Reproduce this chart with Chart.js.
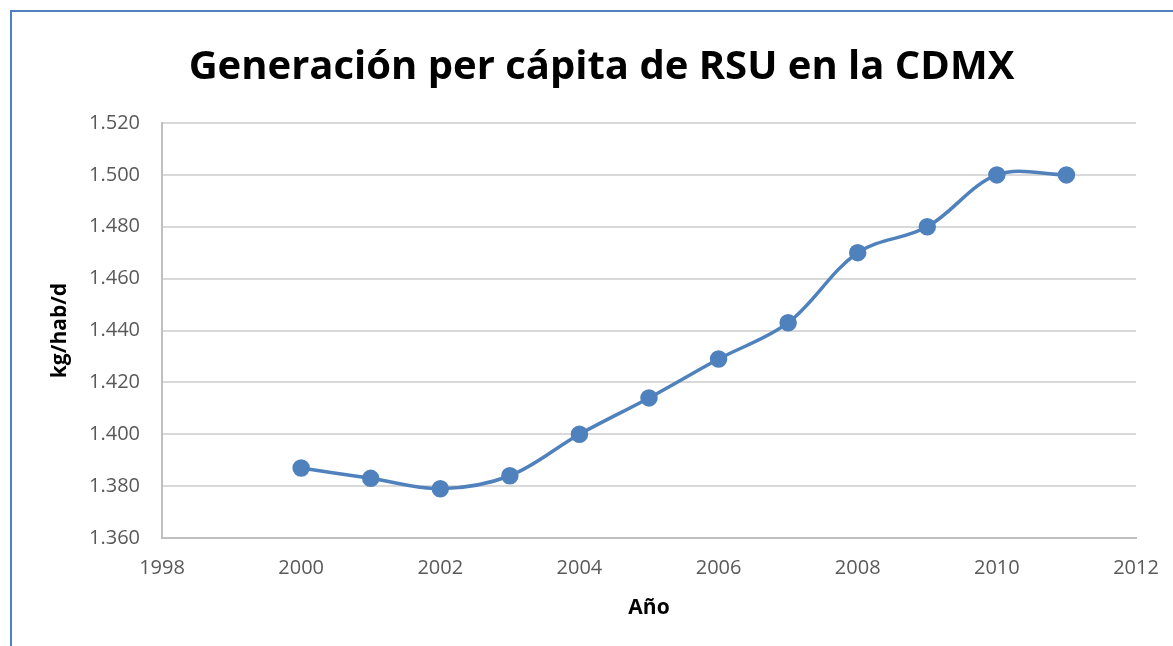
<!DOCTYPE html>
<html>
<head>
<meta charset="utf-8">
<script src="https://cdn.jsdelivr.net/npm/chart.js@4/dist/chart.umd.min.js"></script>
<style>
  html, body { margin: 0; padding: 0; background: #fff; }
  #wrap { position: relative; width: 1173px; height: 646px; overflow: hidden; }
  #frame { position: absolute; left: 10px; top: 10px; width: 1180px; height: 660px; border: 2px solid #4F81BD; box-sizing: border-box; }
  canvas { position: absolute; left: 0; top: 0; }
</style>
</head>
<body>
<div id="wrap">
  <div id="frame"></div>
  <canvas id="myChart" width="1173" height="646"></canvas>
</div>
<script>
const canvas = document.getElementById('myChart');

// años y generación per cápita (kg/hab/d)
const years = [2000, 2001, 2002, 2003, 2004, 2005, 2006, 2007, 2008, 2009, 2010, 2011];
const values = [1.387, 1.383, 1.379, 1.384, 1.400, 1.414, 1.429, 1.443, 1.470, 1.480, 1.500, 1.500];

// ticks de los ejes
const xTicks = [1998, 2000, 2002, 2004, 2006, 2008, 2010, 2012];
const yTicks = [1.36, 1.38, 1.40, 1.42, 1.44, 1.46, 1.48, 1.50, 1.52];

const chartTitle = 'Generación per cápita de RSU en la CDMX';
const xTitle = 'Año';
const yTitle = 'kg/hab/d';

let points = [];
for (let i = 0; i < years.length; i++) {
  points.push({ x: years[i], y: values[i] });
}

const tickColor = '#595959';
const gridColor = '#d9d9d9';
const fontFam = "'Open Sans', sans-serif";

// el título va centrado en el marco, no en el área del gráfico
const shiftTitle = {
  id: 'shiftTitle',
  beforeDraw(chart) {
    if (chart.titleBlock) {
      chart.titleBlock.left += 10;
      chart.titleBlock.right += 10;
    }
  }
};

let myChart = new Chart(canvas, {
  type: 'line',
  data: {
    datasets: [{
      data: points,
      borderColor: '#4F81BD',
      backgroundColor: '#4F81BD',
      borderWidth: 3.5,
      pointRadius: 7,
      pointHoverRadius: 7,
      tension: 0.35,
      fill: false
    }]
  },
  plugins: [shiftTitle],
  options: {
    responsive: false,
    animation: false,
    layout: { padding: { left: 47, right: 37, top: 34, bottom: 27 } },
    plugins: {
      legend: { display: false },
      tooltip: { enabled: false },
      title: {
        display: true,
        text: chartTitle,
        color: '#000',
        font: { family: fontFam, size: 40, weight: 'bold' },
        padding: { top: 10, bottom: 31 }
      }
    },
    scales: {
      x: {
        type: 'linear',
        min: 1998,
        max: 2012,
        afterBuildTicks: (s) => { s.ticks = xTicks.map(v => ({ value: v })); },
        afterFit: (s) => { s.paddingRight = 0; },
        ticks: {
          color: tickColor,
          font: { family: fontFam, size: 20 },
          padding: 18,
          callback: (v) => String(v)
        },
        grid: { display: false, drawTicks: false },
        border: { color: '#bfbfbf', width: 2 },
        title: {
          display: true,
          text: xTitle,
          color: '#000',
          font: { family: fontFam, size: 21, weight: 'bold', lineHeight: 1.0 },
          padding: { top: 0, bottom: 0 }
        }
      },
      y: {
        min: 1.36,
        max: 1.52,
        afterBuildTicks: (s) => { s.ticks = yTicks.map(v => ({ value: v })); },
        afterFit: (s) => { s.width = 115; },
        ticks: {
          color: tickColor,
          font: { family: fontFam, size: 20 },
          padding: 22,
          callback: (v) => v.toFixed(3)
        },
        grid: { color: gridColor, lineWidth: 2, drawTicks: false },
        border: { color: '#bfbfbf', width: 2 },
        title: {
          display: true,
          text: yTitle,
          color: '#000',
          font: { family: fontFam, size: 21, weight: 'bold' },
          padding: { top: 0, bottom: 0 }
        }
      }
    }
  }
});
</script>
</body>
</html>
